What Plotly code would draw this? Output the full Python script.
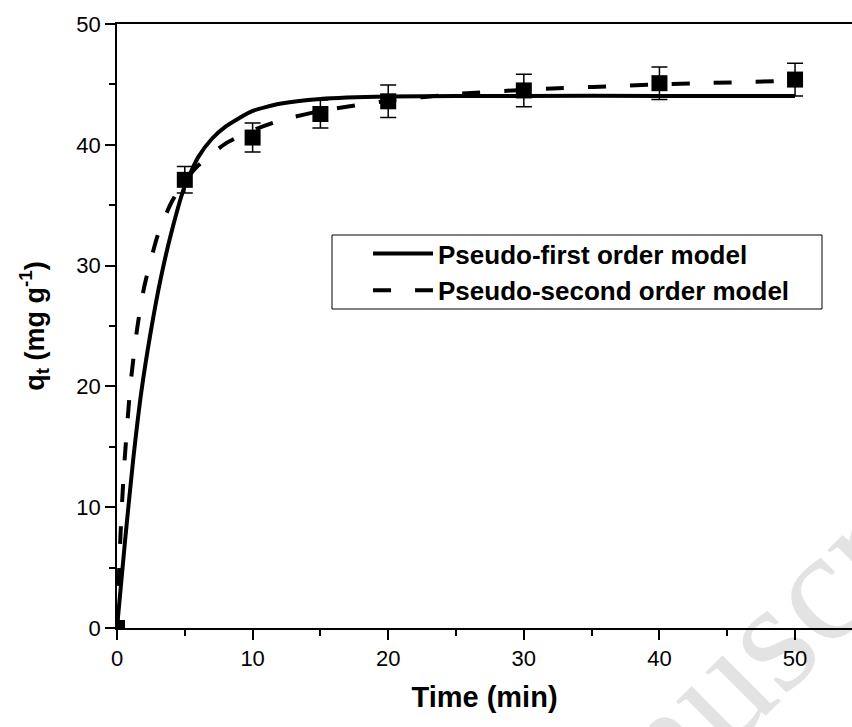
import plotly.graph_objects as go

# Experimental data
time_exp = [0, 5, 10, 15, 20, 30, 40, 50]
qt_exp = [0, 37.1, 40.6, 42.55, 43.6, 44.5, 45.1, 45.4]
qt_err = [0, 1.1, 1.2, 1.15, 1.35, 1.35, 1.35, 1.35]

# Pseudo-first order model curve
t_pfo = [0, 0.6, 1.2, 1.8, 2.5, 3.2, 4.0, 5.0, 6.0, 7.0, 8.0, 9.0, 10, 12, 15, 20, 30, 40, 50]
q_pfo = [0, 7.3, 14.0, 19.6, 24.6, 28.8, 32.7, 36.6, 39.0, 40.5, 41.5, 42.2, 42.8, 43.4, 43.8, 44.0, 44.05, 44.05, 44.05]

# Pseudo-second order model curve
t_pso = [0, 0.25, 0.5, 1, 1.5, 2, 3, 4, 5, 6, 8, 10, 12, 15, 20, 25, 30, 40, 50]
q_pso = [0, 7.5, 12.9, 20.2, 24.9, 28.2, 32.5, 35.2, 37.0, 38.3, 40.1, 41.2, 42.0, 42.8, 43.65, 44.2, 44.55, 45.0, 45.3]

legend_names = ["Pseudo-first order model", "Pseudo-second order model"]

FONT = "Liberation Sans, Arial, sans-serif"
L, T, R, B = 117, 24, 852, 628  # plot area in pixels
PW, PH = R - L, B - T


def px(x):
    return (x - L) / PW


def py(y):
    return (B - y) / PH


fig = go.Figure()
fig.add_trace(go.Scatter(x=t_pfo, y=q_pfo, mode="lines", name="<b>" + legend_names[0] + "</b>",
                         line=dict(color="black", width=4, shape="spline", smoothing=0.6)))
fig.add_trace(go.Scatter(x=t_pso, y=q_pso, mode="lines", name="<b>" + legend_names[1] + "</b>",
                         line=dict(color="black", width=4, dash="18px,24px", shape="spline", smoothing=0.6)))
fig.add_trace(go.Scatter(x=time_exp, y=qt_exp, mode="markers", showlegend=False,
                         marker=dict(symbol="square", size=16, color="black"),
                         error_y=dict(type="data", array=qt_err, color="black", thickness=1.5, width=8)))

axis_common = dict(showline=True, linecolor="black", linewidth=1.8, ticks="outside",
                   ticklen=10, tickwidth=1.8, tickcolor="black", showgrid=False, zeroline=False,
                   tickfont=dict(family=FONT, size=22, color="black"))

fig.update_xaxes(range=[0, 54.2], dtick=10, tick0=0, mirror=True,
                 minor=dict(dtick=5, ticks="outside", ticklen=6, tickwidth=1.8, tickcolor="black"),
                 title=dict(text="<b>Time (min)</b>", font=dict(family=FONT, size=29, color="black"), standoff=16),
                 **axis_common)
fig.update_yaxes(range=[0, 50], dtick=10, tick0=0, mirror=False,
                 minor=dict(dtick=5, ticks="outside", ticklen=6, tickwidth=1.8, tickcolor="black"),
                 title=dict(text="<b>q<sub>t</sub> (mg g<sup>-1</sup>)</b>", font=dict(family=FONT, size=27, color="black"), standoff=24),
                 **axis_common)

# faint diagonal watermark, mostly off the page at bottom right
fig.add_annotation(text="Accepted Manuscript", xref="paper", yref="paper",
                   x=px(511), y=py(894), xanchor="center", yanchor="middle", showarrow=False,
                   textangle=-45, font=dict(family="Liberation Serif, serif", size=160, color="rgba(0,0,0,0.11)"))

# legend frame
fig.add_shape(type="rect", xref="paper", yref="paper", x0=px(332), x1=px(822), y0=py(309), y1=py(235),
              line=dict(color="black", width=1), fillcolor="white", layer="below")

fig.update_layout(
    width=852, height=727,
    margin=dict(l=L, r=852 - R, t=T, b=727 - B, autoexpand=False),
    paper_bgcolor="white", plot_bgcolor="white",
    showlegend=True,
    legend=dict(x=px(368), y=py(230), xanchor="left", yanchor="top",
                borderwidth=0, bgcolor="rgba(0,0,0,0)",
                font=dict(family=FONT, size=26, color="black"), itemwidth=60,
                tracegroupgap=0),
)

fig.write_html("out.html", config={"displayModeBar": False},
               post_script="document.body.style.margin='0';")
